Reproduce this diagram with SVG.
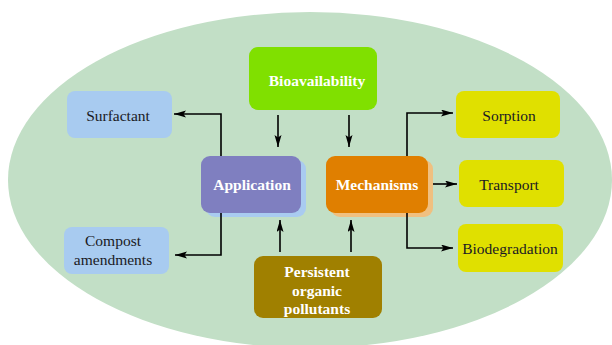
<svg xmlns="http://www.w3.org/2000/svg" width="612" height="345" viewBox="0 0 612 345">
<style>
.lt{font-family:"Liberation Serif","Times New Roman",serif;font-size:15.5px;font-weight:bold;fill:#ffffff;text-anchor:middle}
.dk{font-family:"Liberation Serif","Times New Roman",serif;font-size:15.5px;fill:#1a1a24;text-anchor:middle}
.blue{fill:#a8cbf0}
.yel{fill:#e0e000}
.ln{fill:none;stroke:#000;stroke-width:1.6}
</style>
<defs>
<marker id="ah" markerUnits="userSpaceOnUse" markerWidth="13" markerHeight="8" refX="12" refY="3.5" orient="auto">
<path d="M0,0 L12,3.5 L0,7 L2.5,3.5 Z" fill="#000"/>
</marker>
</defs>
<rect x="0" y="0" width="612" height="345" fill="#ffffff"/>
<ellipse cx="310" cy="180" rx="302" ry="168" fill="#c2dfc6"/>

<g id="bioavailability">
<rect x="249" y="47" width="128" height="63" rx="9" fill="#80e000"/>
<text class="lt" x="317" y="86">Bioavailability</text>
</g>
<g id="application">
<rect x="206" y="160" width="100" height="57" rx="9" fill="#a9cbf0"/>
<rect x="201" y="156" width="100" height="57" rx="9" fill="#7f7fc0"/>
<text class="lt" x="252" y="190">Application</text>
</g>
<g id="mechanisms">
<rect x="331" y="160" width="102" height="57" rx="9" fill="#f0c080"/>
<rect x="326" y="156" width="102" height="57" rx="9" fill="#e07f00"/>
<text class="lt" x="377" y="190">Mechanisms</text>
</g>
<g id="pollutants">
<rect x="254" y="256" width="128" height="62" rx="9" fill="#a08000"/>
<text class="lt" x="317" y="277">Persistent</text>
<text class="lt" x="317" y="295.5">organic</text>
<text class="lt" x="317" y="314">pollutants</text>
</g>
<g id="surfactant">
<rect class="blue" x="67" y="91" width="105" height="47" rx="8"/>
<text class="dk" x="118" y="121">Surfactant</text>
</g>
<g id="compost">
<rect class="blue" x="64" y="227" width="105" height="47" rx="8"/>
<text class="dk" x="113" y="246">Compost</text>
<text class="dk" x="113" y="264.5">amendments</text>
</g>
<g id="sorption">
<rect class="yel" x="456" y="91" width="104" height="47" rx="8"/>
<text class="dk" x="509" y="121">Sorption</text>
</g>
<g id="transport">
<rect class="yel" x="459" y="160" width="105" height="47" rx="8"/>
<text class="dk" x="509" y="190">Transport</text>
</g>
<g id="biodegradation">
<rect class="yel" x="458" y="224" width="105" height="48" rx="8"/>
<text class="dk" x="510" y="254">Biodegradation</text>
</g>

<g id="connectors">
<path class="ln" d="M278,115 L278,147" marker-end="url(#ah)"/>
<path class="ln" d="M349,115 L349,147" marker-end="url(#ah)"/>
<path class="ln" d="M280,252 L280,220" marker-end="url(#ah)"/>
<path class="ln" d="M351,252 L351,220" marker-end="url(#ah)"/>
<path class="ln" d="M221,156 L221,114 L174,114" marker-end="url(#ah)"/>
<path class="ln" d="M221,213 L221,255 L175,255" marker-end="url(#ah)"/>
<path class="ln" d="M407,156 L407,113 L453,113" marker-end="url(#ah)"/>
<path class="ln" d="M433,184 L457,184" marker-end="url(#ah)"/>
<path class="ln" d="M407,213 L407,248 L453,248" marker-end="url(#ah)"/>
</g>
</svg>
